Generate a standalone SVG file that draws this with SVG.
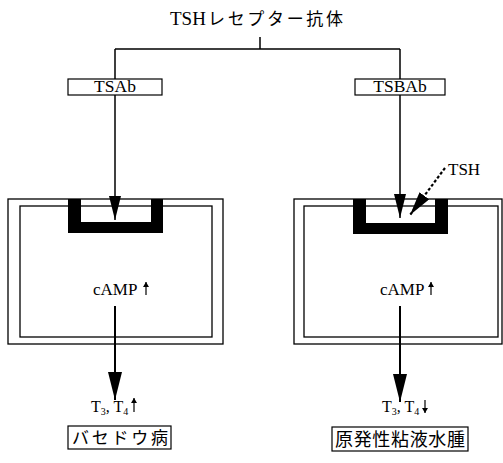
<svg xmlns="http://www.w3.org/2000/svg" width="503" height="463" viewBox="0 0 503 463">
<style>
.ln{stroke:#000;stroke-width:1.5;fill:none}
.bx{stroke:#000;stroke-width:1.2;fill:#fff}
.cell{stroke:#000;stroke-width:1.3;fill:none}
.rec{fill:#000}
.sm{stroke:#000;stroke-width:1.2;fill:none}
.t{font-family:"Liberation Serif","Noto Sans CJK JP",serif;fill:#000}
.j{font-family:"Noto Sans CJK JP","Liberation Serif",serif;fill:#000}
</style>
<defs>
<marker id="ah" markerUnits="userSpaceOnUse" markerWidth="24" markerHeight="12" refX="24" refY="6" orient="auto"><path d="M0,0 L24,6 L0,12 z" fill="#000"/></marker>
<marker id="ah2" markerUnits="userSpaceOnUse" markerWidth="28" markerHeight="14" refX="28" refY="7" orient="auto"><path d="M0,0 L28,7 L0,14 z" fill="#000"/></marker>
<marker id="sh" markerUnits="userSpaceOnUse" markerWidth="5" markerHeight="6" refX="5" refY="3" orient="auto"><path d="M0,0 L5,3 L0,6 z" fill="#000"/></marker>
</defs>
<rect width="503" height="463" fill="#fff"/>
<g id="title"><text class="t" x="170" y="25" font-size="19">TSH</text><text class="j" x="208" y="25" font-size="17" textLength="135" lengthAdjust="spacing">レセプター抗体</text></g>
<g id="connectors">
<path class="ln" d="M260,37 V49 M115,49 H400 M115,49 V79 M400,49 V79"/>
<path class="ln" d="M115,95 V220" marker-end="url(#ah)"/>
<path class="ln" d="M400,95 V218" marker-end="url(#ah)"/>
<path d="M445,168 L410,215" stroke="#000" stroke-width="2.2" stroke-dasharray="3,2" fill="none" marker-end="url(#ah)"/>
<path d="M115,306 V400" stroke="#000" stroke-width="2" fill="none" marker-end="url(#ah2)"/>
<path d="M400,306 V402" stroke="#000" stroke-width="2" fill="none" marker-end="url(#ah2)"/>
</g>
<g id="tsab"><rect class="bx" x="68" y="79" width="94" height="16"/><text class="t" x="115" y="92" font-size="17.5" text-anchor="middle">TSAb</text></g>
<g id="tsbab"><rect class="bx" x="355" y="79" width="90" height="16"/><text class="t" x="400" y="92" font-size="17.5" text-anchor="middle">TSBAb</text></g>
<g id="tsh"><text class="t" x="448" y="175" font-size="17">TSH</text></g>
<g id="cell-left">
<rect class="cell" x="8" y="199" width="215" height="145"/>
<rect class="cell" x="20" y="206" width="192" height="131"/>
<polygon class="rec" points="68,199 81,199 81,222 151,222 151,199 163,199 163,233 68,233"/>
<text class="t" x="93" y="295" font-size="17">cAMP</text>
<path class="sm" d="M146,295 V282" marker-end="url(#sh)"/>
</g>
<g id="cell-right">
<rect class="cell" x="294" y="199" width="208" height="145"/>
<rect class="cell" x="304" y="206" width="194" height="131"/>
<polygon class="rec" points="353,199 366,199 366,223 435,223 435,199 448,199 448,234 353,234"/>
<text class="t" x="380" y="295" font-size="17">cAMP</text>
<path class="sm" d="M431,295 V282" marker-end="url(#sh)"/>
</g>
<g id="t-left"><text class="t" x="91" y="412" font-size="16">T<tspan font-size="10" dy="3">3</tspan><tspan dy="-3">, T</tspan><tspan font-size="10" dy="3">4</tspan></text>
<path class="sm" d="M134,412 V398" marker-end="url(#sh)"/></g>
<g id="t-right"><text class="t" x="382" y="412" font-size="16">T<tspan font-size="10" dy="3">3</tspan><tspan dy="-3">, T</tspan><tspan font-size="10" dy="3">4</tspan></text>
<path class="sm" d="M425,400 V413" marker-end="url(#sh)"/></g>
<g id="basedow"><rect class="bx" x="68" y="426" width="103" height="23"/><text class="j" x="72" y="444" font-size="17" textLength="96" lengthAdjust="spacing">バセドウ病</text></g>
<g id="myxedema"><rect class="bx" x="332" y="427" width="136" height="24"/><text class="j" x="335" y="446" font-size="18" textLength="130" lengthAdjust="spacing">原発性粘液水腫</text></g>
</svg>
